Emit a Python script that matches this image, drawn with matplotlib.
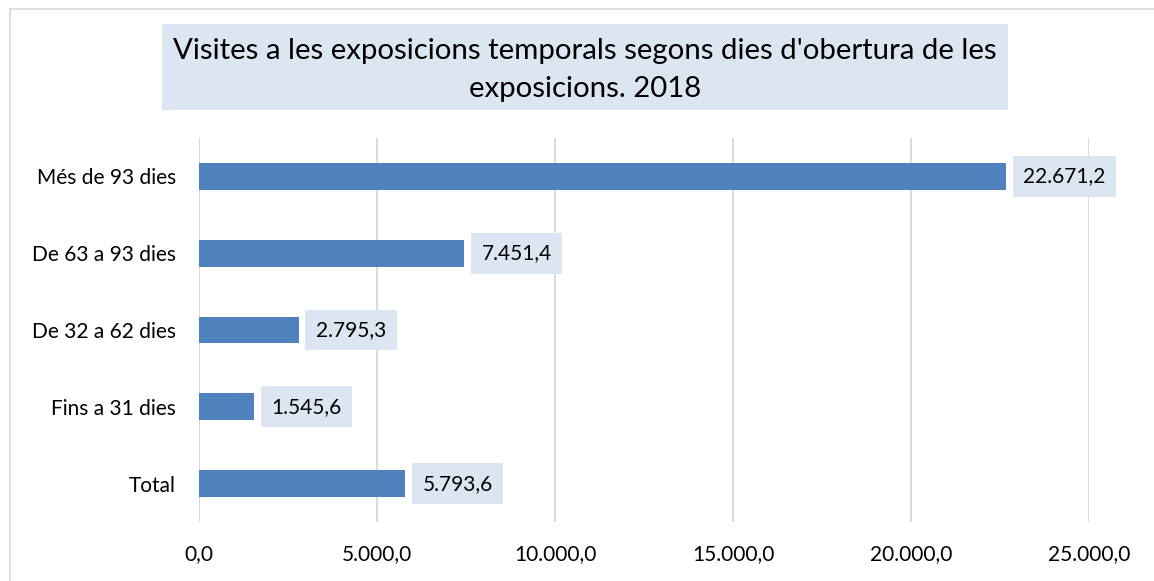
import matplotlib
matplotlib.use("Agg")
import matplotlib.pyplot as plt
from matplotlib.patches import Rectangle
from matplotlib.lines import Line2D
from matplotlib.ticker import FuncFormatter

categories = ["Total", "Fins a 31 dies", "De 32 a 62 dies", "De 63 a 93 dies", "Més de 93 dies"]
values = [5793.6, 1545.6, 2795.3, 7451.4, 22671.2]
x_ticks = [0, 5000, 10000, 15000, 20000, 25000]
title = "Visites a les exposicions temporals segons dies d'obertura de les\nexposicions. 2018"

BAR_COLOR = "#4F81BD"
BOX_COLOR = "#DCE6F2"
GRID_COLOR = "#D9D9D9"

plt.rcParams["font.family"] = ["Lato", "DejaVu Sans"]


def catalan_number(v, decimals=1):
    s = f"{v:,.{decimals}f}"
    return s.replace(",", "X").replace(".", ",").replace("X", ".")


fig = plt.figure(figsize=(11.54, 5.81), dpi=100)
W, H = 1154, 581


def fx(px):
    return px / W


def fy(py):
    return 1 - py / H


# outer frame (top and left edges)
fig.lines.append(Line2D([fx(10), fx(10), fx(1160)], [fy(600), fy(8.5), fy(8.5)],
                        transform=fig.transFigure, color="#D9D9D9", linewidth=1.2))

ax = fig.add_axes([fx(199), fy(522), fx(1089 - 199), (522 - 138) / H])
y = list(range(len(categories)))
ax.barh(y, values, height=0.35, color=BAR_COLOR, zorder=3)
ax.set_ylim(-0.5, len(categories) - 0.5)
ax.set_xlim(0, 25000)
ax.set_xticks(x_ticks)
ax.xaxis.set_major_formatter(FuncFormatter(lambda v, p: catalan_number(v)))
ax.set_yticks(y)
ax.set_yticklabels(categories)
ax.tick_params(axis="both", length=0, labelsize=15, colors="#000000")
ax.tick_params(axis="x", pad=16)
ax.tick_params(axis="y", pad=16.5)
ax.grid(axis="x", color=GRID_COLOR, linewidth=1.3, zorder=0)
for s in ax.spines.values():
    s.set_visible(False)
ax.axvline(0, color=GRID_COLOR, linewidth=1.3, zorder=1)

for yi, v in zip(y, values):
    ax.annotate(catalan_number(v), xy=(v, yi), xytext=(12.5, 0), textcoords="offset points",
                ha="left", va="center", fontsize=15, color="#000000", zorder=4,
                bbox=dict(boxstyle="square,pad=0.5", facecolor=BOX_COLOR, edgecolor="none"))

# title box
fig.patches.append(Rectangle((fx(162), fy(110)), fx(1008 - 162), (110 - 24) / H,
                             transform=fig.transFigure, facecolor=BOX_COLOR, edgecolor="none"))
fig.text(fx(585), fy(70), title, ha="center", va="center", fontsize=21.2,
         linespacing=1.56, color="#000000")

fig.savefig("out.png", dpi=100)
